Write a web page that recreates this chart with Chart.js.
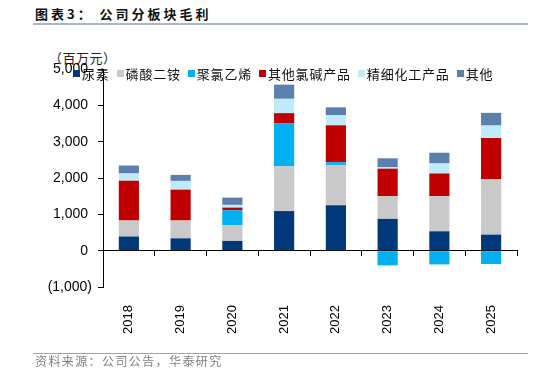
<!DOCTYPE html>
<html>
<head>
<meta charset="utf-8">
<script src="https://cdn.jsdelivr.net/npm/chart.js@4.4.0/dist/chart.umd.min.js"></script>
<style>
  body { margin: 0; width: 534px; height: 377px; background: #fff; position: relative; overflow: hidden; }
  #title { position: absolute; left: 35px; top: 7px; font: bold 13px/13px "Noto Sans CJK SC"; letter-spacing: 3px; color: #111; white-space: pre; }
  .rule { position: absolute; left: 33px; width: 495px; }
  #top-rule { top: 23px; height: 2px; background: #a9b7c9; }
  #bottom-rule { top: 353px; height: 1px; background: #9aa4b8; }
  #unit { position: absolute; left: 49px; top: 51px; font: 13px/13px "Noto Sans CJK SC"; color: #222; letter-spacing: 0.5px; }
  #legend { position: absolute; left: 73px; top: 66px; display: flex; font: 13px/15px "Noto Sans CJK SC"; letter-spacing: 0.8px; color: #111; z-index: 2; }
  .item { display: flex; align-items: center; margin-right: 7px; }
  .box { width: 7px; height: 7px; margin-right: 2px; }
  #source { position: absolute; left: 35px; top: 355px; font: 12px/12px "Noto Sans CJK SC"; letter-spacing: 1.4px; color: #808080; }
  canvas { position: absolute; left: 0; top: 0; }
</style>
</head>
<body>
<div id="title">图表3： 公司分板块毛利</div>
<div class="rule" id="top-rule"></div>
<div id="unit">（百万元）</div>
<canvas id="profit-chart" width="534" height="377"></canvas>
<div id="legend"></div>
<div class="rule" id="bottom-rule"></div>
<div id="source">资料来源：公司公告，华泰研究</div>
<script>
// gross profit by segment, RMB mn
const years = ["2018", "2019", "2020", "2021", "2022", "2023", "2024", "2025"];
const seriesNames = ["尿素", "磷酸二铵", "聚氯乙烯", "其他氯碱产品", "精细化工产品", "其他"];
const urea = [390, 340, 268, 1090, 1250, 875, 533, 442];
const dap = [440, 490, 430, 1230, 1110, 625, 967, 1526];
const pvc = [0, 0, 414, 1180, 75, -405, -378, -368];
const otherChlorAlkali = [1095, 850, 74, 285, 1015, 757, 625, 1134];
const fineChemicals = [200, 240, 74, 395, 275, 45, 275, 342];
const others = [220, 165, 200, 390, 220, 240, 296, 349];
const yTicks = [-1000, 0, 1000, 2000, 3000, 4000, 5000];

const colors = ["#00387a", "#c9c9c9", "#00b0f0", "#c00000", "#c0eafa", "#5b80ad"];
const values = [urea, dap, pvc, otherChlorAlkali, fineChemicals, others];

var datasets = seriesNames.map(function (name, i) {
  return {
    label: name,
    data: values[i],
    backgroundColor: colors[i],
    borderWidth: 0,
    categoryPercentage: 1,
    barPercentage: 0.39,
  };
});

// html legend
var legend = document.getElementById("legend");
seriesNames.forEach(function (name, i) {
  var item = document.createElement("div");
  item.className = "item";
  item.innerHTML = '<span class="box" style="background:' + colors[i] + '"></span><span>' + name + "</span>";
  legend.appendChild(item);
});

function fmt(v) {
  var s = Math.abs(v).toLocaleString("en-US");
  if (v < 0) return "(" + s + ")";
  return s + " ";
}

const ctx = document.getElementById("profit-chart");
var myChart = new Chart(ctx, {
  type: "bar",
  data: { labels: years, datasets: datasets },
  options: {
    responsive: false,
    animation: false,
    layout: { padding: { top: 69, right: 17, left: 0, bottom: 0 } },
    plugins: { legend: { display: false }, tooltip: { enabled: false } },
    scales: {
      x: {
        stacked: true,
        grid: { display: false },
        border: { display: false },
        ticks: {
          minRotation: 90,
          maxRotation: 90,
          padding: 10,
          color: "#000",
          font: { family: "Liberation Sans", size: 13 },
        },
        afterFit: function (s) { s.height = 90; },
      },
      // zero line with tick marks, like the excel axis crossing at 0
      x0: {
        type: "category",
        position: { y: 0 },
        offset: true,
        grid: { drawOnChartArea: false, drawTicks: true, tickLength: 5, color: "#000", offset: true },
        border: { color: "#000", width: 1 },
        ticks: { display: false },
      },
      y: {
        stacked: true,
        min: yTicks[0],
        max: yTicks[yTicks.length - 1],
        afterBuildTicks: function (s) { s.ticks = yTicks.map(function (v) { return { value: v }; }); },
        ticks: {
          padding: 6,
          color: "#000",
          font: { family: "Liberation Sans", size: 14 },
          callback: function (v) { return fmt(v); },
        },
        grid: { drawOnChartArea: false, drawTicks: true, tickLength: 5, color: "#000" },
        border: { color: "#000" },
        afterFit: function (s) { s.width = 103; },
      },
    },
  },
});
</script>
</body>
</html>
